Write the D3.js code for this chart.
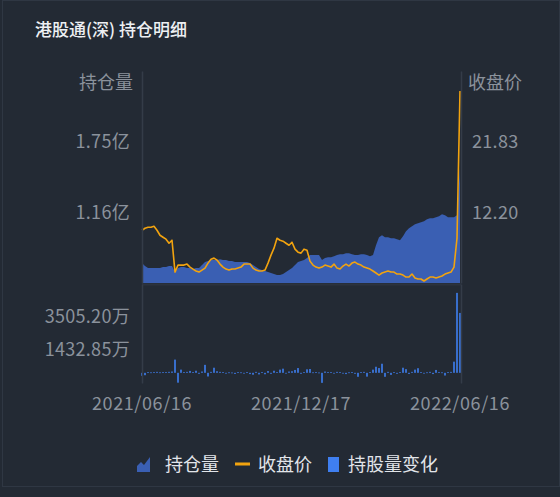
<!DOCTYPE html>
<html>
<head>
<meta charset="utf-8">
<script src="https://cdn.jsdelivr.net/npm/d3@7"></script>
<style>
  html, body { margin: 0; padding: 0; background: #232a34; }
  svg { display: block; font-family: "Noto Sans CJK SC", "Noto Sans", sans-serif; }
</style>
</head>
<body>
<div id="chart"></div>
<script>
// 持仓量 (亿股), one value per sample from 2021/06/16 to 2022/06/16
const holding = [
  0.736, 0.711, 0.695, 0.695, 0.695, 0.695, 0.695, 0.703, 0.703, 0.711,
  0.711, 0.661, 0.695, 0.703, 0.703, 0.695, 0.695, 0.686, 0.695, 0.695,
  0.720, 0.745, 0.753, 0.761, 0.761, 0.761, 0.769, 0.761, 0.761, 0.753,
  0.753, 0.745, 0.745, 0.745, 0.745, 0.745, 0.736, 0.720, 0.703, 0.686,
  0.678, 0.670, 0.661, 0.653, 0.645, 0.636, 0.636, 0.645, 0.661, 0.678,
  0.695, 0.720, 0.745, 0.753, 0.761, 0.778, 0.803, 0.803, 0.803, 0.803,
  0.761, 0.778, 0.786, 0.786, 0.794, 0.803, 0.811, 0.811, 0.819, 0.819,
  0.811, 0.803, 0.803, 0.811, 0.811, 0.803, 0.794, 0.803, 0.886, 0.952,
  0.969, 0.952, 0.952, 0.944, 0.944, 0.936, 0.927, 0.961, 1.002, 1.027,
  1.044, 1.060, 1.069, 1.077, 1.085, 1.102, 1.110, 1.110, 1.118, 1.127,
  1.143, 1.135, 1.118, 1.118, 1.118, 1.135, 1.534
];

// 收盘价
const closePrice = [
  9.76, 10.03, 10.16, 10.16, 10.30, 9.76, 9.08, 8.81, 8.54, 7.99,
  8.40, 4.06, 5.01, 5.01, 5.01, 5.15, 4.74, 4.47, 4.20, 4.06,
  4.33, 4.60, 5.28, 5.82, 5.96, 5.69, 5.15, 4.74, 4.47, 4.33,
  4.47, 4.47, 4.60, 4.74, 5.15, 5.15, 5.15, 4.60, 4.33, 4.20,
  4.20, 4.33, 5.28, 6.37, 7.32, 8.67, 8.40, 8.27, 7.99, 7.72,
  8.13, 7.18, 6.77, 6.64, 7.18, 7.04, 5.55, 5.01, 4.74, 4.60,
  4.74, 5.01, 4.88, 4.74, 5.15, 4.60, 4.47, 4.88, 5.15, 4.88,
  5.28, 5.42, 5.15, 5.01, 4.74, 4.60, 4.47, 4.20, 3.93, 3.65,
  3.93, 4.06, 4.20, 4.06, 4.06, 3.79, 3.79, 3.65, 3.38, 3.38,
  3.79, 3.25, 3.11, 3.11, 2.84, 3.11, 3.38, 3.38, 3.25, 3.38,
  3.52, 3.79, 3.93, 4.06, 4.74, 8.67, 28.74
];

// 持股量变化 (万股)
const holdingChange = [
  -190, -150, 40, 30, 40, 60, 30, 50, 40, 60,
  80, 830, -620, 200, 50, 60, 120, 50, 130, -60,
  80, 500, -230, 60, 320, 100, 60, 40, -40, 30,
  20, -70, 40, 30, -50, 40, -80, -120, 60, -100,
  40, -90, 110, -60, 130, 50, 200, 260, -40, 80,
  100, 180, 300, -60, 40, 220, 240, 30, 40, 20,
  -630, 80, 50, 40, -50, 60, 40, -40, -80, 30,
  40, -60, -250, 40, 60, -240, 50, 200, 380, 300,
  570, -250, 60, -130, 40, -60, 50, 320, 230, -70,
  60, 200, 290, 40, -50, 30, 60, -80, 180, 40,
  30, -170, 40, 60, 700, 5020, 3760
];

const xLabels = ["2021/06/16", "2021/12/17", "2022/06/16"];
const xLabelIndex = [0, 53, 106];

const holdingDomain = [0.57, 2.34];
const holdingTicks = [1.16, 1.75];
const priceDomain = [2.57, 31.46];
const priceTicks = [12.20, 21.83];
const changeDomain = [-639.5, 5577.55];
const changeTicks = [1432.85, 3505.20];

const legendItems = ["持仓量", "收盘价", "持股量变化"];

const W = 560, H = 497;
const left = 142, right = 461;
const topY0 = 71, topY1 = 283;
const botY0 = 284, botY1 = 383;

const colArea = "#3a5fb3", colLine = "#f2a30f", colBar = "#3f7ff0";
const colLabel = "#8b929c", colAxis = "#343c48";

const svg = d3.select("#chart").append("svg")
  .attr("width", W).attr("height", H);

// card
svg.append("rect")
  .attr("x", 2.5).attr("y", 0.5).attr("width", W - 3).attr("height", 486)
  .attr("fill", "#232a34").attr("stroke", "#2f3743");

svg.append("text")
  .attr("x", 35).attr("y", 35.5)
  .attr("fill", "#eef0f3").attr("font-size", 17).attr("font-weight", 500)
  .text("港股通(深) 持仓明细");

const x = d3.scaleLinear().domain([0, holding.length - 1]).range([left, right - 1]);
const yHold = d3.scaleLinear().domain(holdingDomain).range([topY1, topY0]);
const yPrice = d3.scaleLinear().domain(priceDomain).range([topY1, topY0]);
const yChg = d3.scaleLinear().domain(changeDomain).range([botY1, botY0]);

// top chart: area + line
const area = d3.area()
  .x((d, i) => x(i))
  .y0(topY1)
  .y1(d => yHold(d));
svg.append("path").datum(holding)
  .attr("d", area).attr("fill", colArea);

const line = d3.line()
  .x((d, i) => x(i))
  .y(d => yPrice(d));
svg.append("path").datum(closePrice)
  .attr("d", line).attr("fill", "none")
  .attr("stroke", colLine).attr("stroke-width", 1.6)
  .attr("stroke-linejoin", "round");

// separator between the two grids
svg.append("line")
  .attr("x1", left).attr("x2", right)
  .attr("y1", topY1 + 1.5).attr("y2", topY1 + 1.5)
  .attr("stroke", "#2c333e").attr("stroke-width", 2);

// bottom chart: bars
svg.append("g").selectAll("rect")
  .data(holdingChange)
  .join("rect")
  .attr("x", (d, i) => x(i) - 0.8)
  .attr("width", 1.6)
  .attr("y", d => Math.min(yChg(d), yChg(0)))
  .attr("height", d => Math.max(0.8, Math.abs(yChg(d) - yChg(0))))
  .attr("fill", colBar);

// axes
function styleAxis(g) {
  g.select(".domain").attr("stroke", colAxis).attr("stroke-width", 1.5);
  g.selectAll(".tick line").remove();
  g.selectAll("text")
    .attr("fill", colLabel)
    .attr("font-size", 18)
    .attr("letter-spacing", 0.3)
    .attr("font-family", "\"Noto Sans CJK SC\", sans-serif");
}

svg.append("g")
  .attr("transform", `translate(${left},0)`)
  .call(d3.axisLeft(yHold).tickValues(holdingTicks).tickSizeOuter(0).tickSize(0).tickPadding(12)
    .tickFormat(d => d.toFixed(2) + "亿"))
  .call(styleAxis);

svg.append("g")
  .attr("transform", `translate(${right},0)`)
  .call(d3.axisRight(yPrice).tickValues(priceTicks).tickSizeOuter(0).tickSize(0).tickPadding(11)
    .tickFormat(d => d.toFixed(2)))
  .call(styleAxis);

svg.append("g")
  .attr("transform", `translate(${left},0)`)
  .call(d3.axisLeft(yChg).tickValues(changeTicks).tickSizeOuter(0).tickSize(0).tickPadding(12)
    .tickFormat(d => d.toFixed(2) + "万"))
  .call(styleAxis);

svg.append("g")
  .attr("transform", `translate(${right},0)`)
  .call(d3.axisRight(yChg).tickValues([]).tickSizeOuter(0))
  .call(styleAxis);

// axis names
svg.append("text")
  .attr("x", 133).attr("y", 89).attr("text-anchor", "end")
  .attr("fill", colLabel).attr("font-size", 18).text("持仓量");
svg.append("text")
  .attr("x", 468).attr("y", 89).attr("text-anchor", "start")
  .attr("fill", colLabel).attr("font-size", 18).text("收盘价");

// x labels
svg.append("g").selectAll("text")
  .data(xLabels)
  .join("text")
  .attr("x", (d, i) => x(xLabelIndex[i]))
  .attr("y", 410)
  .attr("text-anchor", "middle")
  .attr("fill", colLabel).attr("font-size", 18).attr("letter-spacing", 0.6)
  .text(d => d);

// legend
const lg = svg.append("g").attr("font-size", 18).attr("fill", "#e2e5ea");
lg.append("path")
  .attr("d", "M137,472 L137,466 L141,462 L144,465 L150,457 L150,472 Z")
  .attr("fill", colArea);
lg.append("text").attr("x", 165).attr("y", 471).text(legendItems[0]);
lg.append("rect").attr("x", 235).attr("y", 462.5).attr("width", 15).attr("height", 3)
  .attr("fill", colLine);
lg.append("text").attr("x", 258).attr("y", 471).text(legendItems[1]);
lg.append("rect").attr("x", 328).attr("y", 457).attr("width", 11).attr("height", 15)
  .attr("fill", colBar);
lg.append("text").attr("x", 348).attr("y", 471).text(legendItems[2]);
</script>
</body>
</html>
